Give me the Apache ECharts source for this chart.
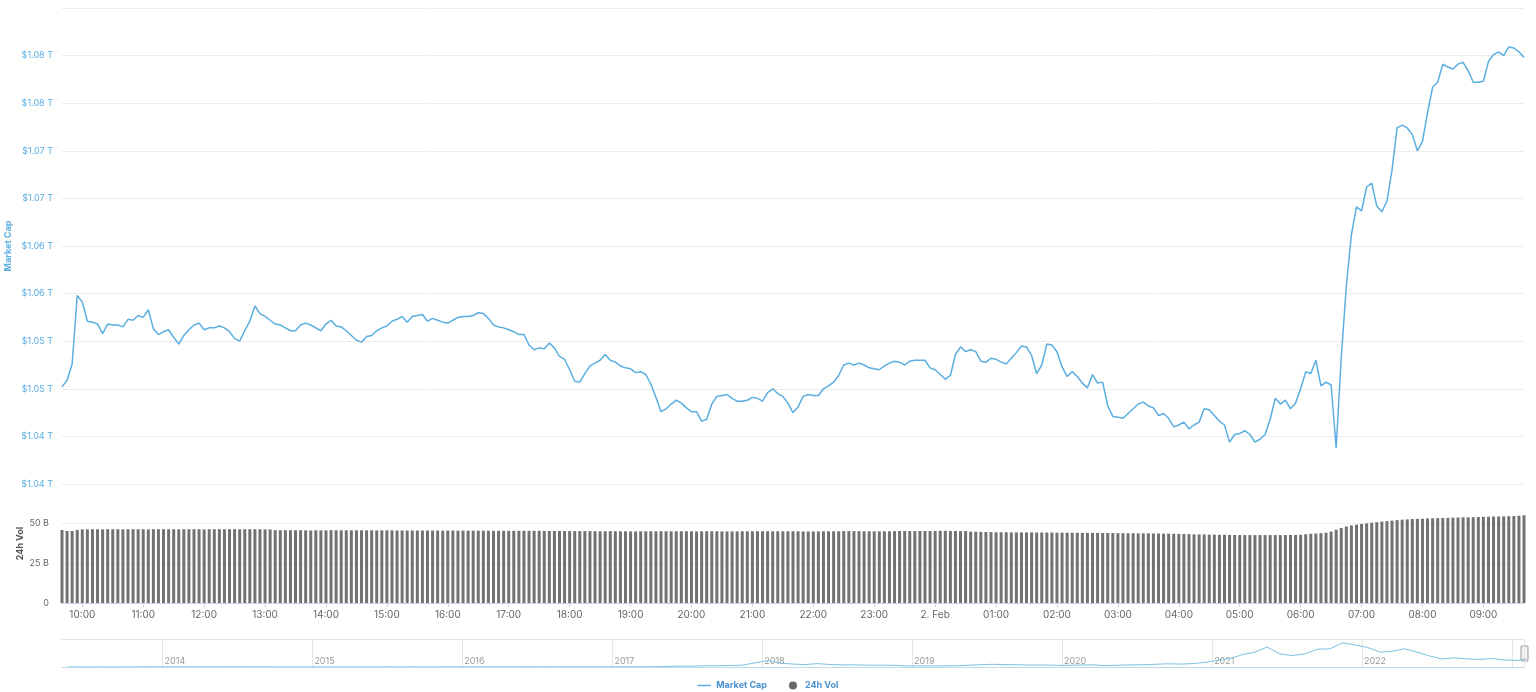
<!DOCTYPE html>
<html>
<head>
<meta charset="utf-8">
<script src="https://cdn.jsdelivr.net/npm/echarts@6/dist/echarts.min.js"></script>
<style>
html,body{margin:0;padding:0;background:#fff;}
#chart{width:1536px;height:692px;}
</style>
</head>
<body>
<div id="chart"></div>
<script>
// ---- data ----
const startTime = '09:40';       // first 5-minute sample
const stepMinutes = 5;
const midnightLabel = '2. Feb';

// total market cap, billions USD (289 five-minute samples)
const marketCap = [
1050.2,1050.9,1052.6,1059.8,1059.1,1057.1,1057.0,1056.8,1055.8,1056.8,
1056.7,1056.7,1056.5,1057.3,1057.2,1057.7,1057.5,1058.3,1056.3,1055.7,
1056.0,1056.2,1055.4,1054.7,1055.6,1056.2,1056.7,1056.9,1056.2,1056.4,
1056.4,1056.6,1056.4,1056.0,1055.3,1055.0,1056.1,1057.1,1058.7,1057.9,
1057.6,1057.2,1056.8,1056.7,1056.4,1056.1,1056.1,1056.7,1056.9,1056.7,
1056.4,1056.1,1056.8,1057.2,1056.6,1056.5,1056.1,1055.6,1055.1,1054.9,
1055.5,1055.6,1056.1,1056.4,1056.6,1057.1,
1057.3,1057.6,1057.0,1057.6,1057.7,1057.8,1057.1,1057.4,1057.2,1057.0,
1056.9,1057.2,1057.5,1057.6,1057.6,1057.7,1058.0,1057.9,1057.4,1056.7,
1056.5,1056.4,1056.2,1056.0,1055.7,1055.7,1054.6,1054.1,1054.3,1054.2,
1054.8,1054.3,1053.4,1053.1,1052.0,1050.8,1050.7,1051.6,1052.4,1052.7,
1053.0,1053.6,1053.0,1052.8,1052.4,1052.2,1052.1,1051.7,1051.8,1051.5,
1050.5,1049.1,1047.6,1047.9,1048.4,1048.8,1048.5,1048.0,1047.6,1047.6,
1046.6,1046.8,1048.4,1049.2,1049.3,1049.4,
1049.0,1048.7,1048.7,1048.8,1049.1,1049.0,1048.7,1049.6,1050.0,
1049.5,1049.2,1048.5,1047.5,1048.1,1049.2,1049.4,1049.3,1049.3,1050.0,
1050.3,1050.7,1051.4,1052.5,1052.7,1052.5,1052.7,1052.5,1052.2,1052.1,
1052.0,1052.4,1052.7,1052.9,1052.8,1052.5,1052.9,1053.0,1053.0,1053.0,
1052.2,1052.0,1051.5,1051.0,1051.4,1053.6,1054.4,1053.9,1054.1,1053.9,
1052.9,1052.8,1053.2,1053.1,1052.8,1052.6,1053.2,1053.8,1054.5,1054.4,
1053.5,1051.6,1052.5,1054.7,1054.6,1053.9,1052.3,
1051.3,1051.8,1051.3,1050.6,1050.1,1051.5,1050.6,1050.7,1048.2,1047.1,
1047.0,1046.9,1047.4,1047.9,1048.4,1048.6,1048.2,1048.0,1047.2,1047.4,
1046.9,1046.0,1046.2,1046.5,1045.8,1046.2,1046.5,1047.9,1047.8,1047.2,
1046.6,1046.2,1044.4,1045.2,1045.3,1045.6,1045.2,1044.4,1044.7,1045.2,
1046.8,1049.0,1048.4,1048.8,1047.9,1048.5,1050.0,1051.8,1051.6,1053.0,
1050.3,1050.7,1050.4,1043.8,1053.3,1060.8,1066.2,1069.1,1068.7,1071.2,
1071.6,1069.2,1068.6,1069.7,1073.0,1077.4,1077.7,1077.4,1076.7,1075.0,
1076.0,1079.0,1081.7,1082.2,1084.1,1083.8,1083.6,1084.1,1084.3,1083.4,
1082.2,1082.2,1082.3,1084.4,1085.1,1085.4,1085.0,1085.9,1085.8,1085.4,
1084.8
];

// 24h volume, billions USD (289 samples)
const volume24h = [
46.0,45.4,45.4,46.0,
46.4,46.4,46.5,46.5,46.4,46.5,46.5,46.5,46.4,46.5,46.5,46.5,46.5,46.4,46.5,46.5,46.5,46.5,46.5,46.4,
46.5,46.5,46.5,46.5,46.4,46.5,46.5,46.5,46.5,46.5,46.5,46.4,46.5,46.5,46.5,46.5,46.4,46.4,
45.9,45.9,45.9,45.9,45.9,45.9,45.8,45.7,
45.8,45.8,45.8,45.9,45.8,45.8,45.8,45.8,45.8,45.8,45.8,45.8,45.7,45.8,45.8,45.8,45.7,45.7,45.7,45.7,
45.7,45.7,45.7,45.7,45.7,45.6,45.7,45.7,45.6,45.6,45.6,45.6,45.6,45.6,45.6,45.5,45.5,45.5,45.5,45.5,
45.5,45.5,45.5,45.5,45.5,45.4,45.4,45.4,45.4,45.4,
45.3,45.3,45.3,45.3,45.3,45.2,45.2,45.2,45.3,45.2,45.2,45.2,45.1,45.1,45.2,45.2,45.2,45.2,45.2,45.2,
45.2,45.2,45.2,45.2,45.2,45.1,45.2,45.2,45.2,45.2,45.1,45.1,45.1,45.1,45.2,45.2,45.2,45.2,45.2,45.2,
45.2,45.2,45.2,45.2,45.2,45.2,45.1,45.1,45.1,45.1,45.2,45.2,45.2,45.2,45.3,45.3,45.3,45.3,45.2,45.2,
45.2,45.2,45.2,45.2,45.3,45.4,45.4,45.3,45.3,45.4,45.4,45.4,45.4,45.5,45.5,45.4,45.4,45.3,45.3,45.0,
44.9,44.8,44.7,44.7,44.6,44.6,44.6,44.5,44.5,44.5,44.5,44.5,44.4,44.4,44.4,44.4,
44.3,44.3,44.3,44.3,44.3,44.2,44.2,44.2,44.2,44.1,44.1,44.1,44.0,44.0,44.0,44.0,43.9,43.9,43.9,43.8,
43.8,43.7,43.7,43.6,43.6,43.5,43.4,43.3,43.2,43.2,43.1,43.1,43.0,43.0,42.9,42.9,
42.8,42.8,42.8,42.8,42.8,42.8,42.8,42.8,42.8,42.8,42.9,42.9,
43.0,43.3,43.6,43.8,44.0,44.3,
45.0,46.2,47.3,48.2,48.9,49.4,
49.8,50.2,50.6,50.9,51.3,51.6,51.9,52.2,52.5,52.7,52.9,53.0,
53.1,53.3,53.4,53.5,53.6,53.7,53.8,53.9,54.0,54.0,54.1,54.2,
54.3,54.4,54.5,54.5,54.6,54.7,54.8,55.0,55.3
];

// market-cap axis (billions)
const capMin = 1040, capMax = 1090, capStep = 5;
// volume axis (billions)
const volMin = 0, volMax = 75, volStep = 25;

// navigator: monthly total market cap (trillions), from May 2013 to Feb 2023
const navStartYear = 2013, navStartMonth = 5;
const navValues = [
0.0015,0.0012,0.001,0.0012,0.0014,0.0019,0.008,0.01,
0.011,0.009,0.007,0.006,0.007,0.008,0.008,0.007,0.005,0.005,0.005,0.004,
0.003,0.0035,0.0035,0.003,0.0032,0.0035,0.0042,0.0037,0.0035,0.004,0.0055,0.007,
0.007,0.0075,0.009,0.009,0.01,0.012,0.011,0.01,0.011,0.012,0.013,0.016,
0.019,0.02,0.025,0.03,0.06,0.11,0.1,0.15,0.15,0.17,0.22,0.5,
0.75,0.45,0.35,0.28,0.4,0.3,0.25,0.26,0.21,0.21,0.21,0.12,
0.13,0.12,0.135,0.14,0.2,0.27,0.32,0.28,0.27,0.22,0.25,0.2,
0.19,0.24,0.26,0.16,0.21,0.25,0.26,0.32,0.38,0.34,0.4,0.55,
0.78,1.0,1.45,1.75,2.35,1.55,1.35,1.55,2.1,2.15,2.85,2.6,
2.3,1.75,1.85,2.15,1.75,1.3,0.95,1.08,0.95,0.9,1.0,0.82,
0.78,1.05
];
const navMin = '2013-05-01', navMax = '2023-02-01';
const navLastLabelYear = 2022;

// ---- build ----
const categories = [];
{
  const [h, m] = startTime.split(':').map(Number);
  const t = h * 60 + m;
  for (let i = 0; i < marketCap.length; i++) {
    const tt = (t + i * stepMinutes) % 1440;
    const hh = String(Math.floor(tt / 60)).padStart(2, '0');
    const mm = String(tt % 60).padStart(2, '0');
    categories.push(hh + ':' + mm);
  }
}
const navData = navValues.map((v, i) => {
  const mi = navStartMonth - 1 + i;
  const y = navStartYear + Math.floor(mi / 12);
  const mo = (mi % 12) + 1;
  return [y + '-' + String(mo).padStart(2, '0') + '-15', v];
});

const FONT = 'Inter, "Open Sans", sans-serif';
const BLUE = '#5aaee0';
const lineIcon = 'path://M0,0h0.01v0.01h-0.01Z M0,4h16v1.6H0Z M0,9.6h0.01v0.01h-0.01Z';

const chart = echarts.init(document.getElementById('chart'), null, {renderer: 'canvas'});
chart.setOption({
  animation: false,
  textStyle: {fontFamily: FONT},
  grid: [
    {left: 62, right: 12, top: 8, height: 476, outerBoundsMode: 'none', containLabel: false},
    {left: 62, right: 12, top: 484, height: 119, outerBoundsMode: 'none', containLabel: false},
    {left: 62, right: 11.5, top: 639, height: 28, outerBoundsMode: 'none', containLabel: false}
  ],
  legend: {
    top: 676, left: 'center', itemGap: 22, itemWidth: 14, itemHeight: 8,
    textStyle: {color: '#4a8fd0', fontWeight: 'bold', fontSize: 9, fontFamily: FONT},
    data: [
      {name: 'Market Cap', icon: lineIcon, itemStyle: {color: BLUE}},
      {name: '24h Vol', icon: 'circle', itemStyle: {color: '#666'}}
    ]
  },
  xAxis: [
    {gridIndex: 0, type: 'category', data: categories, boundaryGap: false,
     axisLine: {show: false}, axisTick: {show: false}, axisLabel: {show: false}, splitLine: {show: false}},
    {gridIndex: 1, type: 'category', data: categories, boundaryGap: false,
     axisLine: {lineStyle: {color: '#ccd6eb'}},
     axisTick: {show: true, interval: (i, v) => v.endsWith(':00'), length: 4, lineStyle: {color: '#ccd6eb'}},
     axisLabel: {interval: (i, v) => v.endsWith(':00'), color: '#666', fontSize: 10, margin: 7,
       formatter: v => v === '00:00' ? midnightLabel : v},
     splitLine: {show: false}},
    {gridIndex: 2, type: 'time', min: navMin, max: navMax,
     minInterval: 365 * 24 * 3600 * 1000, maxInterval: 366 * 24 * 3600 * 1000,
     axisLine: {lineStyle: {color: '#bfdcea'}}, axisTick: {show: false},
     axisLabel: {inside: true, color: '#999', fontSize: 9, align: 'left', margin: 1, padding: [0, 0, 0, 2],
       showMinLabel: false, showMaxLabel: false,
       formatter: v => { const y = new Date(v).getFullYear(); return y <= navLastLabelYear ? String(y) : ''; }},
     splitLine: {show: true, showMinLine: false, lineStyle: {color: '#e6e6e6'}}},
    {gridIndex: 2, type: 'value', position: 'top', min: 0, max: 1,
     axisLine: {show: true, lineStyle: {color: '#e2e2e2'}}, axisTick: {show: false},
     axisLabel: {show: false}, splitLine: {show: false}}
  ],
  yAxis: [
    {gridIndex: 0, type: 'value', min: capMin, max: capMax, interval: capStep,
     name: 'Market Cap', nameLocation: 'middle', nameRotate: 90, nameGap: 49, nameMoveOverlap: false,
     nameTextStyle: {color: BLUE, fontWeight: 'bold', fontSize: 9},
     axisLine: {show: false}, axisTick: {show: false},
     axisLabel: {color: BLUE, fontSize: 9, margin: 9, showMaxLabel: false,
       formatter: v => '$' + (v / 1000).toFixed(2) + ' T'},
     splitLine: {lineStyle: {color: '#ececec'}}},
    {gridIndex: 1, type: 'value', min: volMin, max: volMax, interval: volStep,
     name: '24h Vol', nameLocation: 'middle', nameRotate: 90, nameGap: 37, nameMoveOverlap: false,
     nameTextStyle: {color: '#555', fontWeight: 'bold', fontSize: 9},
     axisLine: {show: false}, axisTick: {show: false},
     axisLabel: {color: '#666', fontSize: 9, margin: 13, showMaxLabel: false,
       formatter: v => v === 0 ? '0' : v + ' B'},
     splitLine: {lineStyle: {color: '#ececec'}}},
    {gridIndex: 2, type: 'value', min: 0, max: 3.3, show: false}
  ],
  series: [
    {name: 'Market Cap', type: 'line', xAxisIndex: 0, yAxisIndex: 0, data: marketCap,
     symbol: 'none', lineStyle: {color: BLUE, width: 1.5}, itemStyle: {color: BLUE}},
    {name: '24h Vol', type: 'bar', xAxisIndex: 1, yAxisIndex: 1, data: volume24h,
     barWidth: 3, itemStyle: {color: '#727272'}},
    {name: 'nav', type: 'line', xAxisIndex: 2, yAxisIndex: 2, data: navData,
     symbol: 'none', lineStyle: {color: '#7cc0e4', width: 1}, silent: true}
  ],
  graphic: [
    {type: 'rect', shape: {x: 1521, y: 646, width: 7, height: 15, r: 1},
     style: {fill: '#f2f2f2', stroke: '#999', lineWidth: 1}, silent: true}
  ]
});
</script>
</body>
</html>
